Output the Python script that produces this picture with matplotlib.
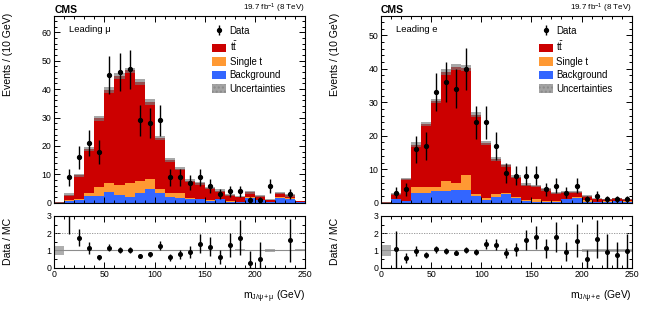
import numpy as np
import matplotlib
matplotlib.use("Agg")
import matplotlib.pyplot as plt
from matplotlib.patches import Patch
from matplotlib.ticker import MultipleLocator

plt.rcParams.update({
    "font.family": ["Liberation Sans", "DejaVu Sans"],
    "mathtext.fontset": "custom",
    "mathtext.rm": "Liberation Sans",
    "mathtext.it": "Liberation Sans:italic",
    "mathtext.bf": "Liberation Sans:bold",
    "axes.linewidth": 0.8,
})

RED = "#cc0000"
ORANGE = "#ff9933"
BLUE = "#3366ff"
UNC = "#7a7a7a"

edges = np.arange(0, 260, 10)
centers = edges[:-1] + 5

# ---- leading muon channel ----
mu_data = [0, 9, 16, 21, 18, 45, 46, 47, 29, 28, 29, 9, 9, 7, 9, 6, 3, 4, 4, 1, 1, 6, 0, 3, 0]
mu_ttbar = [0.1, 2.0, 8.4, 15.5, 24.1, 33.0, 38.1, 39.6, 34.8, 27.2, 18.0, 11.7, 8.7, 6.3,
            5.4, 4.2, 2.9, 2.0, 1.7, 1.8, 1.3, 0.8, 1.5, 1.1, 0.3]
mu_single_t = [0, 0.3, 0.2, 1.2, 3.3, 2.9, 3.5, 4.9, 4.4, 3.4, 1.4, 1.4, 1.6, 0.2, 0.2, 0.3,
               0.1, 0.4, 0.2, 0.1, 0.1, 0.1, 0.1, 0.1, 0.1]
mu_background = [0, 0.6, 1.0, 2.3, 2.3, 3.9, 2.9, 2.1, 3.3, 4.8, 3.3, 1.9, 1.7, 1.3, 1.2, 0.7,
                 1.3, 0.3, 0.2, 1.8, 1.0, 0.2, 1.8, 1.4, 0.2]
mu_unc = [0.05, 0.45, 0.45, 0.7, 0.9, 1.0, 1.0, 1.0, 1.0, 1.1, 0.7, 0.6, 0.5, 0.45, 0.45, 0.35,
          0.4, 0.3, 0.2, 0.5, 0.3, 0.15, 0.45, 0.5, 0.15]
mu_ratio = [np.nan, 3.1, 1.74, 1.12, 0.60, 1.16, 1.03, 1.03, 0.68, 0.77, 1.28, 0.60, 0.77, 0.93,
            1.39, 1.22, 0.64, 1.32, 1.74, 0.29, 0.48, 5.4, np.nan, 1.60, np.nan]
mu_ratio_err = [np.nan, 1.15, 0.5, 0.35, 0.14, 0.2, 0.17, 0.15, 0.12, 0.14, 0.28, 0.2, 0.25, 0.35,
                0.55, 0.55, 0.4, 0.7, 1.0, 0.65, 1.0, 2.2, np.nan, 1.25, np.nan]
mu_ratio_band = [0.27, 0.04, 0.04, 0.04, 0.04, 0.04, 0.04, 0.04, 0.04, 0.04, 0.04, 0.04, 0.04,
                 0.04, 0.04, 0.04, 0.04, 0.04, 0.06, 0.04, 0.04, 0.08, 0.04, 0.04, 0.06]

# ---- leading electron channel ----
e_data = [0, 3, 4, 16, 17, 33, 36, 34, 40, 24, 24, 17, 9, 8, 8, 8, 4, 5, 3, 5, 1, 2, 1, 1, 1]
e_ttbar = [0.1, 1.6, 6.5, 12.7, 18.8, 25.6, 32.4, 34.7, 31.8, 23.7, 16.5, 10.6, 8.2, 6.1, 4.6,
           4.0, 3.5, 2.4, 2.0, 1.6, 1.4, 0.9, 0.7, 0.8, 0.5]
e_single_t = [0, 0.1, 0.1, 1.6, 1.8, 1.2, 3.0, 2.0, 4.6, 0.5, 0.5, 0.7, 0.4, 0.4, 0.2, 0.9, 0.4,
              0.4, 0.2, 0.1, 0.5, 0.1, 0.1, 0.1, 0.4]
e_background = [0, 1.0, 0.4, 3.0, 2.8, 3.6, 3.6, 3.8, 3.8, 2.1, 0.8, 1.8, 2.6, 1.3, 0.6, 0.1,
                0.1, 0.1, 1.0, 1.5, 0.2, 0.2, 0.3, 0.5, 0.1]
e_unc = [0.05, 0.35, 0.3, 0.7, 0.6, 0.7, 0.9, 0.8, 0.9, 0.7, 0.5, 0.5, 0.5, 0.5, 0.4, 0.35, 0.35,
         0.35, 0.4, 0.4, 0.3, 0.15, 0.15, 0.15, 0.15]
e_ratio = [np.nan, 1.06, 0.58, 0.97, 0.73, 1.08, 0.97, 0.87, 1.02, 0.93, 1.39, 1.33, 0.87, 1.06,
           1.60, 1.76, 1.12, 1.78, 0.93, 1.57, 0.48, 1.68, 0.93, 0.73, 0.97]
e_ratio_err = [np.nan, 1.06, 0.3, 0.3, 0.18, 0.2, 0.17, 0.16, 0.17, 0.18, 0.3, 0.33, 0.3, 0.4,
               0.6, 0.65, 0.55, 0.85, 0.55, 0.95, 0.55, 1.1, 1.0, 0.75, 1.0]
e_ratio_band = [0.3, 0.05, 0.05, 0.05, 0.05, 0.05, 0.05, 0.05, 0.05, 0.05, 0.05, 0.05, 0.05,
                0.05, 0.05, 0.05, 0.05, 0.05, 0.05, 0.05, 0.08, 0.08, 0.08, 0.08, 0.08]

panels = [
    dict(x0=0.0837, data=mu_data, tt=mu_ttbar, st=mu_single_t, bkg=mu_background, unc=mu_unc,
         ratio=mu_ratio, rerr=mu_ratio_err, band=mu_ratio_band, ymax=65.7,
         tag="Leading \u03bc", xlabel=r"m$_{\mathrm{J/\psi+\mu}}$ (GeV)"),
    dict(x0=0.587, data=e_data, tt=e_ttbar, st=e_single_t, bkg=e_background, unc=e_unc,
         ratio=e_ratio, rerr=e_ratio_err, band=e_ratio_band, ymax=55.7,
         tag="Leading e", xlabel=r"m$_{\mathrm{J/\psi+e}}$ (GeV)"),
]

fig = plt.figure(figsize=(6.49, 3.10), dpi=100, facecolor="white")


def style_ticks(ax):
    ax.tick_params(which="both", direction="in", top=True, right=True, labelsize=6.3, pad=2,
                   width=0.7)
    ax.tick_params(which="major", length=4)
    ax.tick_params(which="minor", length=2)


for p in panels:
    ax = fig.add_axes([p["x0"], 0.346, 0.3863, 0.602])
    axr = fig.add_axes([p["x0"], 0.1365, 0.3863, 0.1668])

    bkg = np.array(p["bkg"])
    st = np.array(p["st"])
    tt = np.array(p["tt"])
    unc = np.array(p["unc"])
    total = bkg + st + tt
    data = np.array(p["data"], dtype=float)

    ax.stairs(bkg, edges, baseline=0, fill=True, color=BLUE, lw=0)
    ax.stairs(bkg + st, edges, baseline=bkg, fill=True, color=ORANGE, lw=0)
    ax.stairs(total, edges, baseline=bkg + st, fill=True, color=RED, lw=0)
    ax.stairs(total + unc, edges, baseline=total - unc, fill=True, color=UNC, alpha=0.65, lw=0)

    m = data > 0
    eb = ax.errorbar(centers[m], data[m], yerr=np.sqrt(data[m]), fmt="o", color="black",
                     ms=2.8, elinewidth=1.0, capsize=0, label="Data")

    ax.set_xlim(0, 250)
    ax.set_ylim(0, p["ymax"])
    ax.xaxis.set_major_locator(MultipleLocator(50))
    ax.xaxis.set_minor_locator(MultipleLocator(10))
    ax.yaxis.set_major_locator(MultipleLocator(10))
    ax.yaxis.set_minor_locator(MultipleLocator(2))
    ax.tick_params(labelbottom=False)
    style_ticks(ax)

    ax.set_ylabel("Events / (10 GeV)", fontsize=7.6, loc="top")
    ax.yaxis.set_label_coords(-0.165, 1.02)

    ax.text(0.0, 1.008, "CMS", transform=ax.transAxes, fontsize=7.5, fontweight="bold",
            ha="left", va="bottom")
    ax.text(1.0, 1.008, r"19.7 fb$^{-1}$ (8 TeV)", transform=ax.transAxes, fontsize=5.8,
            ha="right", va="bottom")
    ax.text(0.06, 0.955, p["tag"], transform=ax.transAxes, fontsize=6.8, ha="left", va="top")

    handles = [
        eb,
        Patch(facecolor=RED, edgecolor="none", label=r"t$\bar{\mathrm{t}}$"),
        Patch(facecolor=ORANGE, edgecolor="none", label="Single t"),
        Patch(facecolor=BLUE, edgecolor="none", label="Background"),
        Patch(facecolor="#a3a3a3", edgecolor="#8a8a8a", hatch="....", lw=0,
              label="Uncertainties"),
    ]
    ax.legend(handles=handles, loc="upper left", bbox_to_anchor=(0.63, 0.948), frameon=False,
              fontsize=6.9, handlelength=1.45, handleheight=1.0, labelspacing=0.36,
              handletextpad=0.35, borderaxespad=0, borderpad=0)

    # ratio panel
    band = np.array(p["band"])
    axr.stairs(1 + band, edges, baseline=1 - band, fill=True, color="#8c8c8c", alpha=0.7, lw=0)
    axr.axhline(1, color="#8c8c8c", lw=0.8)
    axr.axhline(2, color="#8c8c8c", lw=0.6, ls=(0, (1.5, 1.5)))
    axr.errorbar(centers, p["ratio"], yerr=p["rerr"], fmt="o", color="black", ms=2.6,
                 elinewidth=1.0, capsize=0)
    axr.set_xlim(0, 250)
    axr.set_ylim(0, 3)
    axr.xaxis.set_major_locator(MultipleLocator(50))
    axr.xaxis.set_minor_locator(MultipleLocator(10))
    axr.yaxis.set_major_locator(MultipleLocator(1))
    axr.yaxis.set_minor_locator(MultipleLocator(0.5))
    style_ticks(axr)
    axr.set_ylabel("Data / MC", fontsize=7.6)
    axr.yaxis.set_label_coords(-0.165, 0.5)
    axr.set_xlabel(p["xlabel"], fontsize=7.4, loc="right")
    axr.xaxis.set_label_coords(1.0, -0.4)

fig.savefig("out.png", dpi=100, facecolor="white")
